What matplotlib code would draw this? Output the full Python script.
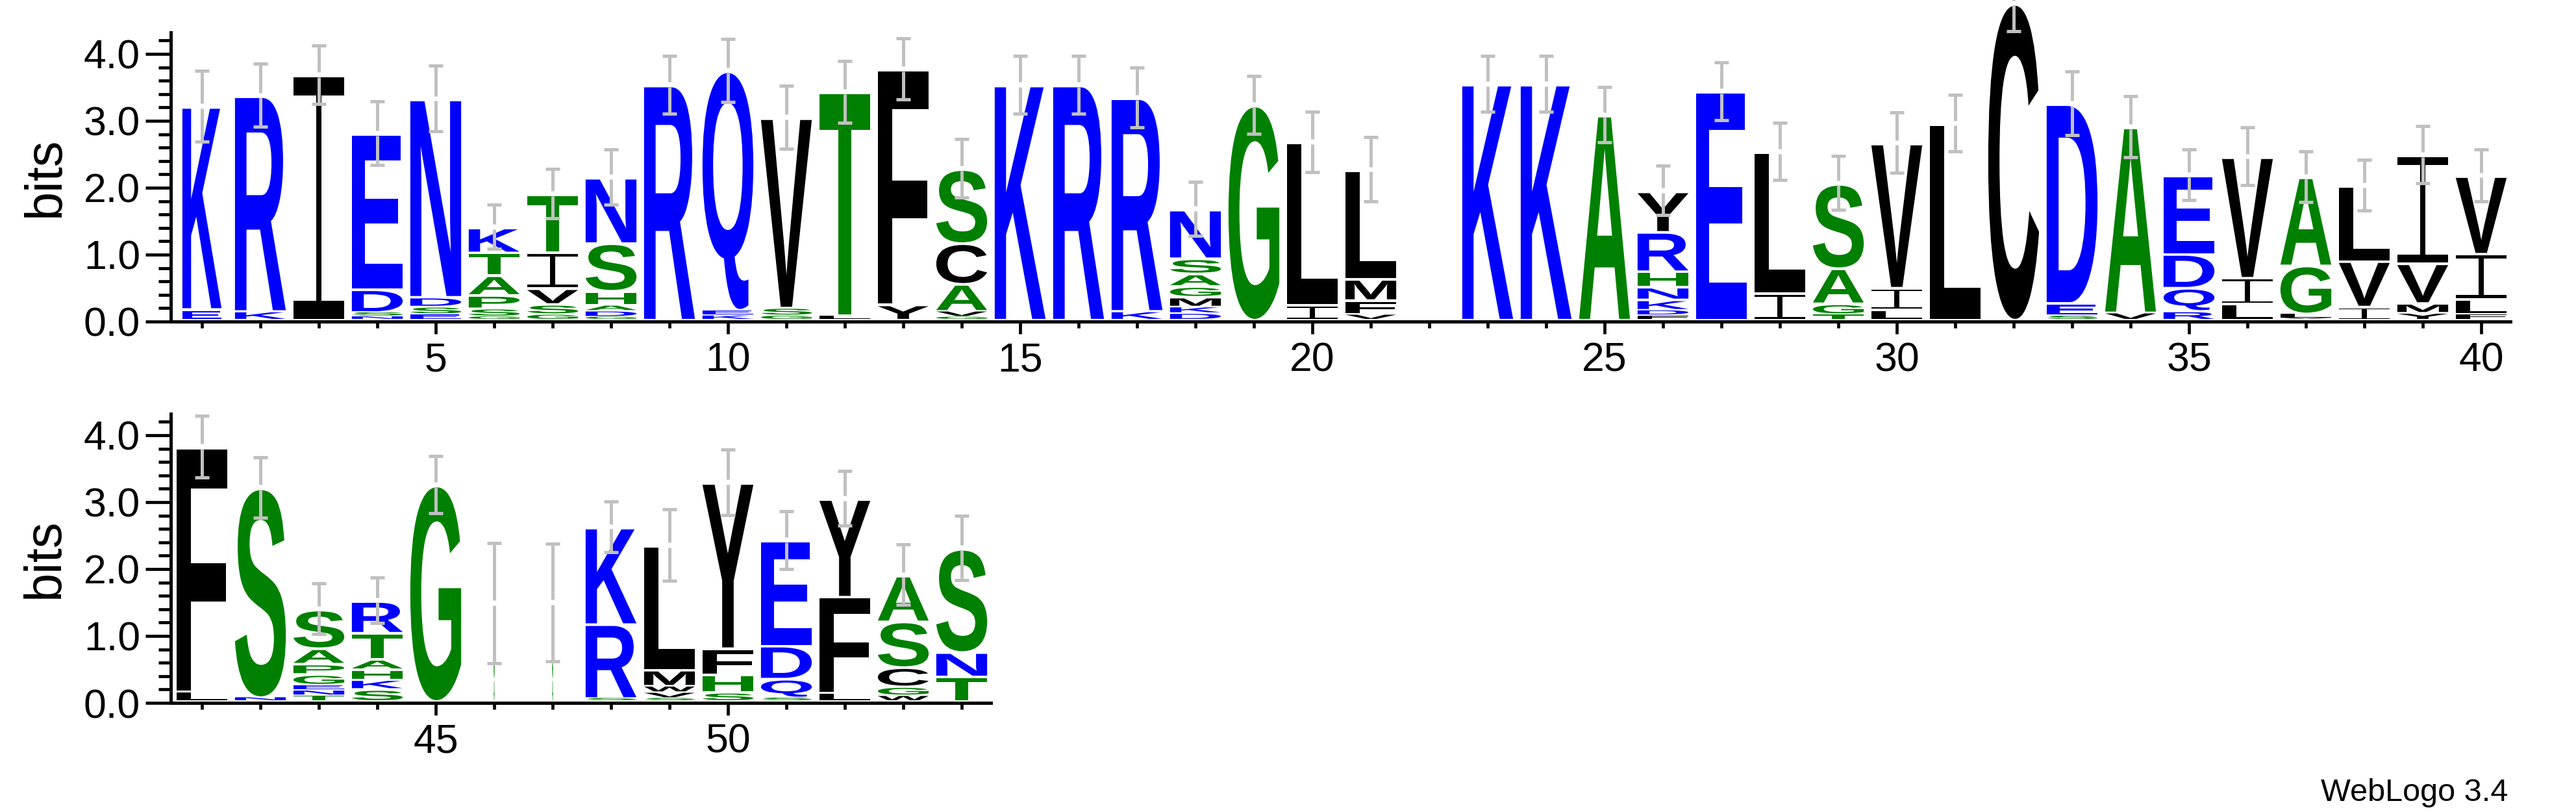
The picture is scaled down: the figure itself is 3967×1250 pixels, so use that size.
import matplotlib
matplotlib.use("Agg")
import matplotlib.pyplot as plt
from matplotlib.textpath import TextPath
from matplotlib.font_manager import FontProperties
from matplotlib.patches import PathPatch
from matplotlib.path import Path
from matplotlib.transforms import Affine2D
from matplotlib.ticker import MultipleLocator, FixedLocator, FormatStrFormatter

plt.rcParams['font.family'] = ['Liberation Sans', 'DejaVu Sans']

# ---- data (letters bottom -> top, heights in bits) ----
positions = list(range(1, 55))
stack_letters = [
    "EK", "KR", "I", "NSDE", "ESDN", "GSPATK", "GSVIT", "GDAHSN", "R", "KEQ",
    "GSV", "LT", "YF", "GVACS", "K", "R", "KR", "DKMGASN", "G", "IL",
    "VFML", "", "K", "K", "A", "FDKNHRY", "E", "IL", "TGAS", "LIV",
    "L", "C", "SED", "VA", "RQDE", "LIV", "VLGA", "IVL", "YMVI", "FLIV",
    "LF", "NS", "TNEGPAS", "SKHATR", "G", "AS", "AS", "SRK", "SVWML", "SHFY",
    "SQDE", "LFY", "WGCSA", "TNS",
]
stack_heights = [
    [0.16, 3.02], [0.13, 3.21], [3.65], [0.05, 0.065, 0.34, 2.32],
    [0.083, 0.113, 0.146, 2.95], [0.05, 0.12, 0.20, 0.295, 0.34, 0.373],
    [0.083, 0.152, 0.236, 0.541, 0.857], [0.044, 0.088, 0.087, 0.213, 0.712, 0.978],
    [3.50], [0.067, 0.081, 3.566],
    [0.064, 0.116, 2.832], [0.067, 3.327], [0.229, 3.508],
    [0.044, 0.088, 0.404, 0.608, 1.107], [3.50], [3.50], [0.132, 3.178],
    [0.099, 0.097, 0.146, 0.162, 0.187, 0.227, 0.728], [3.20], [0.219, 2.427],
    [0.083, 0.21, 0.317, 1.625], [], [3.513], [3.513], [3.05],
    [0.067, 0.081, 0.155, 0.191, 0.23, 0.589, 0.605], [3.403], [0.40, 2.104],
    [0.083, 0.162, 0.524, 1.262], [0.154, 0.324, 2.155],
    [2.924], [4.72], [0.064, 0.187, 2.971], [0.109, 2.764],
    [0.132, 0.346, 0.505, 1.171], [0.238, 0.389, 1.802], [0.02, 0.073, 0.718, 1.317],
    [0.196, 0.68, 1.123], [0.103, 0.146, 0.594, 1.612], [0.088, 0.22, 0.678, 1.161],
    [0.148, 3.641], [0.058, 3.121], [0.084, 0.08, 0.08, 0.16, 0.154, 0.231, 0.578],
    [0.18, 0.144, 0.151, 0.154, 0.391, 0.475], [3.221], [0.33, 1.12], [0.33, 1.13],
    [0.045, 1.104, 1.443], [0.045, 0.087, 0.096, 0.241, 1.85],
    [0.132, 0.263, 0.394, 2.47], [0.052, 0.282, 0.494, 1.565],
    [0.122, 1.437, 1.46], [0.084, 0.134, 0.289, 0.683, 0.684], [0.366, 0.366, 1.543],
]
error_bars = [
    0.53, 0.47, 0.44, 0.48, 0.49, 0.33, 0.37, 0.41, 0.43, 0.47,
    0.47, 0.46, 0.46, 0.44, 0.43, 0.43, 0.45, 0.40, 0.43, 0.45,
    0.48, 0.0, 0.42, 0.42, 0.41, 0.37, 0.43, 0.43, 0.40, 0.45,
    0.42, 0.42, 0.48, 0.46, 0.38, 0.43, 0.38, 0.38, 0.43, 0.39,
    0.46, 0.45, 0.38, 0.34, 0.43, 0.90, 0.88, 0.38, 0.53, 0.49,
    0.43, 0.41, 0.45, 0.48,
]
# fraction of non-gap sequences (scales the stack width)
stack_widths = [0.77] + [1.0] * 44 + [0.02, 0.02] + [1.0] * 7

colors = {}
for aa in "RKDENQ":
    colors[aa] = '#0000ff'
for aa in "SGHTAP":
    colors[aa] = '#008000'
for aa in "YVMCLFIW":
    colors[aa] = '#000000'

W, H = 3967, 1250
BASE = 0.04          # letters sit just above the axis line
LETTER_W = 0.87      # full stack width in position units
GRAY = '#c0c0c0'

font_main = FontProperties(family='Liberation Sans', weight='bold')

# WebLogo's I has cross bars top and bottom, build it by hand in a unit box
cap, stem = 0.075, 0.055
i_beam = Path([(0, 0), (1, 0), (1, cap), (0.5 + stem, cap), (0.5 + stem, 1 - cap),
               (1, 1 - cap), (1, 1), (0, 1), (0, 1 - cap), (0.5 - stem, 1 - cap),
               (0.5 - stem, cap), (0, cap), (0, 0)], closed=True)


def draw_letter(ax, ch, x, y, w, h):
    if ch == 'I':
        tp = i_beam
    else:
        tp = TextPath((0, 0), ch, size=1, prop=font_main)
    bb = tp.get_extents()
    tr = Affine2D().translate(-bb.x0, -bb.y0).scale(w / bb.width, h / bb.height).translate(x - w / 2, y)
    ax.add_patch(PathPatch(tr.transform_path(tp), fc=colors[ch], ec='none', lw=0,
                           clip_on=False, zorder=2))


fig = plt.figure(figsize=(W / 100, H / 100), dpi=100)


def px_axes(left, top, width, height):
    return fig.add_axes([left / W, 1 - (top + height) / H, width / W, height / H])


ax1 = px_axes(266, 50, 3600, 445)    # positions 1-40
ax2 = px_axes(266, 637, 1260, 445)   # positions 41-54

for ax, first, last, lab_x in [(ax1, 1, 40, -0.0544), (ax2, 41, 54, -0.156)]:
    ax.set_xlim(first - 0.5, last + 0.5)
    ax.set_ylim(0, 4.32)
    ax.patch.set_visible(False)
    for s in ['top', 'right']:
        ax.spines[s].set_visible(False)
    ax.spines['left'].set_linewidth(3.6)
    ax.spines['bottom'].set_linewidth(3.6)
    ax.spines['left'].set_position(('outward', 2))
    ax.xaxis.set_major_locator(FixedLocator([p for p in range(first, last + 1) if p % 5 == 0]))
    ax.xaxis.set_minor_locator(FixedLocator(list(range(first, last + 1))))
    ax.yaxis.set_major_locator(MultipleLocator(1))
    ax.yaxis.set_minor_locator(MultipleLocator(0.2))
    ax.yaxis.set_major_formatter(FormatStrFormatter('%.1f'))
    ax.tick_params(axis='x', which='major', length=14, width=3.4, pad=8, labelsize=45)
    ax.tick_params(axis='x', which='minor', length=7, width=3.4)
    ax.tick_params(axis='y', which='major', length=28, width=3.4, pad=6, labelsize=45)
    ax.tick_params(axis='y', which='minor', length=14, width=3.4)
    ax.set_ylabel('bits', fontsize=57, va='center')
    ax.yaxis.set_label_coords(lab_x, 0.5)

for i, pos in enumerate(positions):
    ax = ax1 if pos <= 40 else ax2
    w = LETTER_W * stack_widths[i]
    y = BASE
    for ch, h in zip(stack_letters[i], stack_heights[i]):
        gap = min(0.04, 0.25 * h)
        draw_letter(ax, ch, pos, y, w, h - gap)
        y += h
    err = error_bars[i]
    if err <= 0:
        continue
    top = y
    kw = dict(color=GRAY, lw=3.6, solid_capstyle='butt', clip_on=False, zorder=3)
    ax.plot([pos, pos], [top + 0.04, top + err], **kw)
    ax.plot([pos, pos], [top - err, top - 0.035], **kw)
    for yy in (top - err, top + err):
        ax.plot([pos - 0.12, pos + 0.12], [yy, yy], **kw)

fig.text(3862 / W, 1 - 1233 / H, 'WebLogo 3.4', ha='right', va='baseline', fontsize=35)

fig.savefig('out.png', dpi=100)
